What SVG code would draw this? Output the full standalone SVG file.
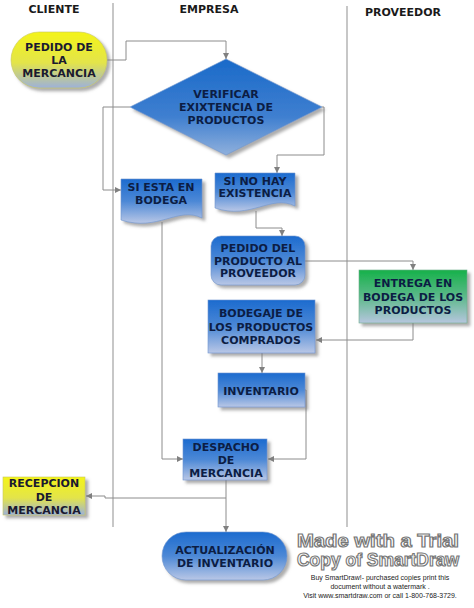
<svg xmlns="http://www.w3.org/2000/svg" width="474" height="608" viewBox="0 0 474 608">
<defs>
<linearGradient id="gBlue" x1="0" y1="0" x2="0" y2="1"><stop offset="0" stop-color="#1c6bcf"/><stop offset="0.5" stop-color="#4c88d6"/><stop offset="1" stop-color="#b9c7e6"/></linearGradient>
<linearGradient id="gDia" x1="0" y1="0" x2="0" y2="1"><stop offset="0" stop-color="#1a6ac9"/><stop offset="0.6" stop-color="#3f7fd0"/><stop offset="1" stop-color="#8fb0dc"/></linearGradient>
<linearGradient id="gYel" x1="0" y1="0" x2="0" y2="1"><stop offset="0" stop-color="#f4f419"/><stop offset="0.55" stop-color="#e3e44a"/><stop offset="1" stop-color="#9db1da"/></linearGradient>
<linearGradient id="gGrn" x1="0" y1="0" x2="0" y2="1"><stop offset="0" stop-color="#16b14a"/><stop offset="0.5" stop-color="#5cb98a"/><stop offset="1" stop-color="#b6c6de"/></linearGradient>
<filter id="sh" x="-20%" y="-20%" width="150%" height="150%"><feDropShadow dx="3" dy="3" stdDeviation="1.5" flood-color="#777" flood-opacity="0.6"/></filter>
<marker id="ar" viewBox="0 0 8 8" refX="8" refY="4" markerWidth="6" markerHeight="6" orient="auto" markerUnits="userSpaceOnUse"><path d="M0,0 L8,4 L0,8 Z" fill="#808080"/></marker>
<style>
.lane{stroke:#b4b4b4;stroke-width:1.5;fill:none}
.hd{font-family:"DejaVu Sans",Verdana,sans-serif;font-weight:bold;font-size:11px;fill:#1a1a1a;text-anchor:middle}
.t{font-family:"DejaVu Sans",Verdana,sans-serif;font-weight:bold;font-size:11px;fill:#0c1d44;text-anchor:middle}
.ty{font-family:"DejaVu Sans",Verdana,sans-serif;font-weight:bold;font-size:11px;fill:#1a1a30;text-anchor:middle}
.b{fill:url(#gBlue);stroke:#6f95cf;stroke-width:0.6;filter:url(#sh)}
.c{fill:none;stroke:#8c8c8c;stroke-width:1;marker-end:url(#ar)}
.wm{font-family:"Liberation Sans",Arial,sans-serif;font-weight:bold;font-size:19px;fill:#fff;stroke:#777;stroke-width:1.2;text-anchor:middle}
.ws{font-family:"Liberation Sans",Arial,sans-serif;font-size:7px;fill:#222;text-anchor:middle}
</style>
</defs>
<rect width="474" height="608" fill="#fff"/>
<g id="lanes">
<line class="lane" x1="113" y1="3" x2="113" y2="527"/>
<line class="lane" x1="347" y1="6" x2="347" y2="527"/>
<text class="hd" x="54" y="13">CLIENTE</text>
<text class="hd" x="209" y="13">EMPRESA</text>
<text class="hd" x="403" y="16">PROVEEDOR</text>
</g>
<g id="connectors">
<path class="c" d="M107,60 H126 V41 H226 V59"/>
<path class="c" d="M130,107 H103 V190 H121"/>
<path class="c" d="M322,107 H324 V155 H277 V173"/>
<path class="c" d="M162,222 V459 H183"/>
<path class="c" d="M256,211 V228 H282 V236"/>
<path class="c" d="M305,261 H413 V270"/>
<path class="c" d="M413,323 V340 H316"/>
<path class="c" d="M262,353 V373"/>
<path class="c" d="M305,390 H306 V459 H268"/>
<path class="c" d="M226,480 V498 H105 V496 H86"/>
<path class="c" d="M226,498 V532"/>
</g>
<g id="n-pedido-mercancia">
<rect x="11" y="32" width="96" height="56" rx="28" ry="28" fill="url(#gYel)" stroke="#c8c860" stroke-width="0.6" filter="url(#sh)"/>
<text class="ty" x="59" y="51">PEDIDO DE</text>
<text class="ty" x="59" y="64">LA</text>
<text class="ty" x="59" y="77">MERCANCIA</text>
</g>
<g id="n-verificar">
<polygon points="226,59 322,107 226,155 130,107" fill="url(#gDia)" stroke="#6f95cf" stroke-width="0.6" filter="url(#sh)"/>
<text class="t" x="226" y="98">VERIFICAR</text>
<text class="t" x="226" y="111">EXIXTENCIA DE</text>
<text class="t" x="226" y="124">PRODUCTOS</text>
</g>
<g id="n-si-esta">
<path class="b" d="M121,179 H202 V218 C178,206 158,232 121,220 Z"/>
<text class="t" x="161" y="191">SI ESTA EN</text>
<text class="t" x="161" y="204">BODEGA</text>
</g>
<g id="n-si-no-hay">
<path class="b" d="M215,173 H295 V206 C271,194 251,220 215,208 Z"/>
<text class="t" x="255" y="185">SI NO HAY</text>
<text class="t" x="255" y="197">EXISTENCIA</text>
</g>
<g id="n-pedido-producto">
<rect class="b" x="211" y="236" width="94" height="49" rx="10" ry="10"/>
<text class="t" x="258" y="252">PEDIDO DEL</text>
<text class="t" x="258" y="265">PRODUCTO AL</text>
<text class="t" x="258" y="277">PROVEEDOR</text>
</g>
<g id="n-entrega">
<rect x="359" y="270" width="108" height="53" fill="url(#gGrn)" stroke="#6fae8c" stroke-width="0.6" filter="url(#sh)"/>
<text class="t" x="413" y="287">ENTREGA EN</text>
<text class="t" x="413" y="301">BODEGA DE LOS</text>
<text class="t" x="413" y="314">PRODUCTOS</text>
</g>
<g id="n-bodegaje">
<rect class="b" x="208" y="300" width="107" height="53"/>
<text class="t" x="261" y="317">BODEGAJE DE</text>
<text class="t" x="261" y="331">LOS PRODUCTOS</text>
<text class="t" x="261" y="344">COMPRADOS</text>
</g>
<g id="n-inventario">
<rect class="b" x="218" y="373" width="87" height="34"/>
<text class="t" x="261" y="395">INVENTARIO</text>
</g>
<g id="n-despacho">
<rect class="b" x="183" y="439" width="84" height="41"/>
<text class="t" x="226" y="451">DESPACHO</text>
<text class="t" x="226" y="464">DE</text>
<text class="t" x="226" y="477">MERCANCIA</text>
</g>
<g id="n-recepcion">
<rect x="3" y="477" width="82" height="38" fill="url(#gYel)" stroke="#c8c860" stroke-width="0.6" filter="url(#sh)"/>
<text class="ty" x="44" y="487">RECEPCION</text>
<text class="ty" x="44" y="501">DE</text>
<text class="ty" x="44" y="514">MERCANCIA</text>
</g>
<g id="n-actualizacion">
<rect class="b" x="162" y="532" width="125" height="48" rx="24" ry="24"/>
<text class="t" x="225" y="554">ACTUALIZACIÓN</text>
<text class="t" x="225" y="567">DE INVENTARIO</text>
</g>
<g id="watermark">
<text class="wm" x="378" y="547" textLength="162" lengthAdjust="spacingAndGlyphs">Made with a Trial</text>
<text class="wm" x="378" y="566" textLength="162" lengthAdjust="spacingAndGlyphs">Copy of SmartDraw</text>
<text class="ws" x="380" y="580">Buy SmartDraw!- purchased copies print this</text>
<text class="ws" x="380" y="589">document without a watermark .</text>
<text class="ws" x="380" y="598">Visit www.smartdraw.com or call 1-800-768-3729.</text>
</g>
</svg>
